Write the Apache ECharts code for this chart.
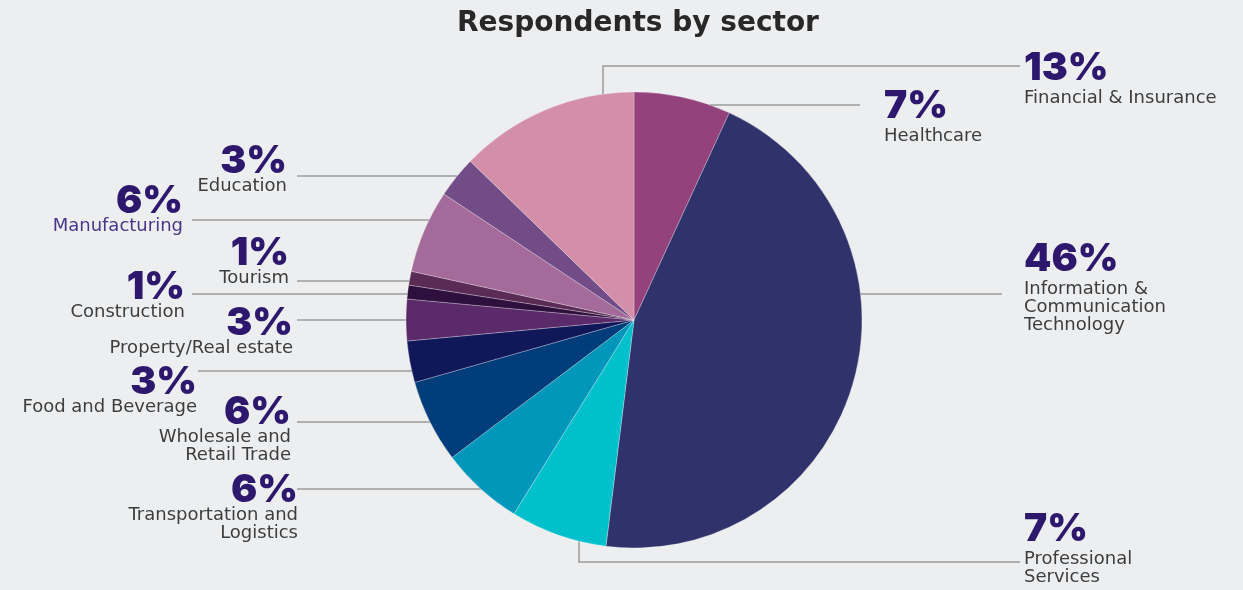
<!DOCTYPE html>
<html>
<head>
<meta charset="utf-8">
<title>Respondents by sector</title>
<script src="https://cdn.jsdelivr.net/npm/echarts@6/dist/echarts.min.js"></script>
<style>
  html, body { margin: 0; padding: 0; background: #edeef0; }
  #chart { width: 1243px; height: 590px; }
</style>
</head>
<body>
<div id="chart"></div>
<script>
// Sectors, clockwise from 12 o'clock
const sectors = [
  'Healthcare',
  'Information &\nCommunication\nTechnology',
  'Professional\nServices',
  'Transportation and\nLogistics',
  'Wholesale and\nRetail Trade',
  'Food and Beverage',
  'Property/Real estate',
  'Construction',
  'Tourism',
  'Manufacturing',
  'Education',
  'Financial & Insurance'
];
// Share of respondents, percent
const shares = [7, 46, 7, 6, 6, 3, 3, 1, 1, 6, 3, 13];
const sliceColors = [
  '#93427c', '#30336b', '#00c0cc', '#0097bb', '#013d7b', '#101859',
  '#5a2a6b', '#2e0f3d', '#5a2c55', '#a46b9a', '#714c86', '#d38ea8'
];

// Pie geometry
const PIE_CX = 634, PIE_CY = 320, PIE_R = 228;

// Where each callout sits: side, text anchor x, top of the label block,
// and how its leader line runs (horizontal at lineY to endX, or bent via bendX)
const callouts = [
  { side: 'R', x: 884,  top: 90,  lineY: 105, endX: 860 },
  { side: 'R', x: 1024, top: 243, lineY: 294, endX: 1002 },
  { side: 'R', x: 1024, top: 513, bendX: 579, lineY: 562, endX: 1020, down: true },
  { side: 'L', x: 298,  top: 475, lineY: 489, endX: 297 },
  { side: 'L', x: 291,  top: 397, lineY: 422, endX: 297 },
  { side: 'L', x: 197,  top: 367, lineY: 371, endX: 198 },
  { side: 'L', x: 293,  top: 308, lineY: 320, endX: 297 },
  { side: 'L', x: 185,  top: 272, lineY: 294, endX: 192 },
  { side: 'L', x: 289,  top: 238, lineY: 281, endX: 297 },
  { side: 'L', x: 183,  top: 186, lineY: 220, endX: 192, accent: true },
  { side: 'L', x: 287,  top: 146, lineY: 176, endX: 297 },
  { side: 'R', x: 1024, top: 52,  bendX: 603, lineY: 66, endX: 1020, up: true }
];

function edgeXAt(y, side) {
  const dy = y - PIE_CY;
  const dx = Math.sqrt(Math.max(PIE_R * PIE_R - dy * dy, 0));
  return side === 'L' ? PIE_CX - dx : PIE_CX + dx;
}
function edgeYAt(x, down) {
  const dx = x - PIE_CX;
  const dy = Math.sqrt(Math.max(PIE_R * PIE_R - dx * dx, 0));
  return down ? PIE_CY + dy : PIE_CY - dy;
}

const chart = echarts.init(document.getElementById('chart'), null, { renderer: 'canvas' });

const NAME_FONT = '"DejaVu Sans", "Open Sans", sans-serif';
const PCT_FONT = 'Inter, "Noto Sans", sans-serif';

chart.setOption({
  backgroundColor: '#edeef0',
  animation: false,
  title: {
    text: 'Respondents by sector',
    left: 452,
    top: 5,
    textStyle: {
      fontFamily: '"DejaVu Sans", Inter, sans-serif',
      fontWeight: 'bold',
      fontSize: 28,
      color: '#2a2728'
    }
  },
  series: [{
    type: 'pie',
    center: [PIE_CX, PIE_CY],
    radius: [0, PIE_R],
    startAngle: 90,
    clockwise: true,
    avoidLabelOverlap: false,
    itemStyle: { borderColor: 'rgba(255,255,255,0.45)', borderWidth: 0.6 },
    data: sectors.map((name, i) => ({
      name: name,
      value: shares[i],
      itemStyle: { color: sliceColors[i] }
    })),
    label: {
      show: true,
      position: 'outside',
      formatter: function (p) {
        const c = callouts[p.dataIndex];
        const pct = c.side === 'R' ? 'pR' : 'pL';
        const nm = c.accent ? 'nA' : 'n';
        const lines = p.name.split('\n').map(l => '{' + nm + '|' + l + '}');
        return '{' + pct + '|' + p.value + '%}\n' + lines.join('\n');
      },
      rich: {
        pR: { fontFamily: PCT_FONT, fontWeight: 900, fontSize: 39, lineHeight: 42, color: '#2e186e' },
        pL: { fontFamily: PCT_FONT, fontWeight: 900, fontSize: 39, lineHeight: 32, color: '#2e186e' },
        n:  { fontFamily: NAME_FONT, fontSize: 18, lineHeight: 18, color: '#3d3d3d' },
        nA: { fontFamily: NAME_FONT, fontSize: 18, lineHeight: 18, color: '#4a3589' }
      }
    },
    labelLine: {
      show: true,
      lineStyle: { color: '#9b9b9b', width: 1.5 }
    },
    labelLayout: function (params) {
      const c = callouts[params.dataIndex];
      let pts;
      if (c.bendX !== undefined) {
        const ey = edgeYAt(c.bendX, c.down);
        pts = [[c.bendX, ey], [c.bendX, c.lineY], [c.endX, c.lineY]];
      } else {
        const ex = edgeXAt(c.lineY, c.side);
        pts = [[ex, c.lineY], [(ex + c.endX) / 2, c.lineY], [c.endX, c.lineY]];
      }
      return {
        x: c.x,
        y: c.side === 'R' ? c.top - 5 : c.top - 1,
        align: c.side === 'R' ? 'left' : 'right',
        verticalAlign: 'top',
        labelLinePoints: pts
      };
    }
  }]
});
</script>
</body>
</html>
